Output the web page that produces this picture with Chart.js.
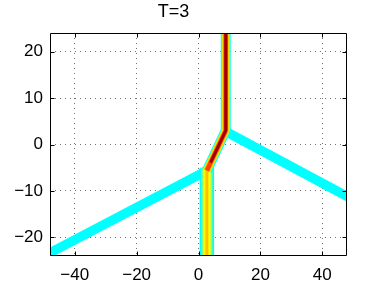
<!DOCTYPE html>
<html>
<head>
<meta charset="utf-8">
<title>T=3</title>
<script src="https://cdn.jsdelivr.net/npm/chart.js"></script>
<style>
  html, body { margin: 0; padding: 0; background: #fff; }
  canvas { display: block; }
</style>
</head>
<body>
<canvas id="chart" width="384" height="288"></canvas>
<script>
const titleText = 'T=3';
const xTicks = [-40, -20, 0, 20, 40];
const yTicks = [-20, -10, 0, 10, 20];

// front paths in data units
const leftX = [-50, 0.5, 2.7];
const leftY = [-24.0, -6.4, -5.6];
const rightX = [8.8, 50];
const rightY = [2.8, -11.9];
const lowerX = [2.7, 2.7];
const lowerY = [-26, -5.0];
const upperX = [2.7, 8.8, 8.8];
const upperY = [-5.6, 3.0, 26];
// strongest part of the front
const coreX = [3.9, 8.8, 8.8];
const coreY = [-3.9, 3.0, 26];

const fontFamily = "'Liberation Sans', Arial, Helvetica, sans-serif";

function pts(xs, ys) {
  return xs.map((x, i) => ({x: x, y: ys[i]}));
}

function band(xs, ys, color, width, order) {
  return {
    data: pts(xs, ys),
    showLine: true,
    pointRadius: 0,
    borderColor: color,
    borderWidth: width,
    borderCapStyle: 'butt',
    borderJoinStyle: 'round',
    clip: 0,
    order: order
  };
}

const datasets = [
  band(leftX, leftY, '#00ffff', 9.5, 30),
  band(rightX, rightY, '#00ffff', 9.5, 30),
  // lower stem, yellow core
  band(lowerX, lowerY, '#00ffff', 14.5, 25),
  band(lowerX, lowerY, '#80ff80', 11, 24),
  band(lowerX, lowerY, '#ffff00', 7.5, 23),
  band(lowerX, lowerY, '#ffc000', 3, 22),
  // bend + upper stem, red core
  band(upperX, upperY, '#00ffff', 10, 15),
  band(upperX, upperY, '#b0ff50', 8, 14),
  band(upperX, upperY, '#ffd000', 7, 13),
  band(upperX, upperY, '#ff4000', 4.5, 12),
  band(coreX, coreY, '#a00000', 3, 11)
];

// matlab style box with inward ticks
const boxPlugin = {
  id: 'box',
  afterDraw(chart) {
    const ctx = chart.ctx;
    const a = chart.chartArea;
    const sx = chart.scales.x, sy = chart.scales.y;
    const L = Math.round(a.left) + 0.5, R = Math.round(a.right) - 0.5;
    const T = Math.round(a.top) + 0.5, B = Math.round(a.bottom) - 0.5;
    ctx.save();
    ctx.strokeStyle = '#000';
    ctx.lineWidth = 1;
    ctx.beginPath();
    ctx.rect(L, T, R - L, B - T);
    xTicks.forEach(v => {
      const p = Math.round(sx.getPixelForValue(v)) + 0.5;
      ctx.moveTo(p, B); ctx.lineTo(p, B - 4);
      ctx.moveTo(p, T); ctx.lineTo(p, T + 4);
    });
    yTicks.forEach(v => {
      const p = Math.round(sy.getPixelForValue(v)) + 0.5;
      ctx.moveTo(L, p); ctx.lineTo(L + 4, p);
      ctx.moveTo(R, p); ctx.lineTo(R - 4, p);
    });
    ctx.stroke();
    ctx.restore();
  }
};

const minus = v => String(v).replace('-', '\u2212');

new Chart(document.getElementById('chart'), {
  type: 'scatter',
  data: { datasets: datasets },
  options: {
    responsive: false,
    animation: false,
    devicePixelRatio: 1,
    layout: { padding: { left: 0, right: 37, top: 0, bottom: 0 } },
    plugins: {
      legend: { display: false },
      tooltip: { enabled: false },
      title: {
        display: true,
        text: titleText,
        color: '#000',
        font: { size: 18, weight: 'normal', family: fontFamily },
        padding: { top: 1, bottom: 10.4 }
      }
    },
    scales: {
      x: {
        type: 'linear',
        min: -48,
        max: 48,
        afterBuildTicks: s => { s.ticks = xTicks.map(v => ({value: v})); },
        afterFit: s => { s.height = 32; },
        grid: { color: 'rgba(0,0,0,0.55)', lineWidth: 1, drawTicks: false },
        border: { display: false, dash: [1, 4] },
        ticks: {
          color: '#000',
          font: { size: 17, family: fontFamily },
          padding: 9,
          maxRotation: 0,
          autoSkip: false,
          callback: minus
        }
      },
      y: {
        type: 'linear',
        min: -24,
        max: 24,
        afterBuildTicks: s => { s.ticks = yTicks.map(v => ({value: v})); },
        afterFit: s => { s.width = 50; },
        grid: { color: 'rgba(0,0,0,0.55)', lineWidth: 1, drawTicks: false },
        border: { display: false, dash: [1, 4] },
        ticks: {
          color: '#000',
          font: { size: 17, family: fontFamily },
          padding: 7,
          autoSkip: false,
          callback: minus
        }
      }
    }
  },
  plugins: [boxPlugin]
});
</script>
</body>
</html>
